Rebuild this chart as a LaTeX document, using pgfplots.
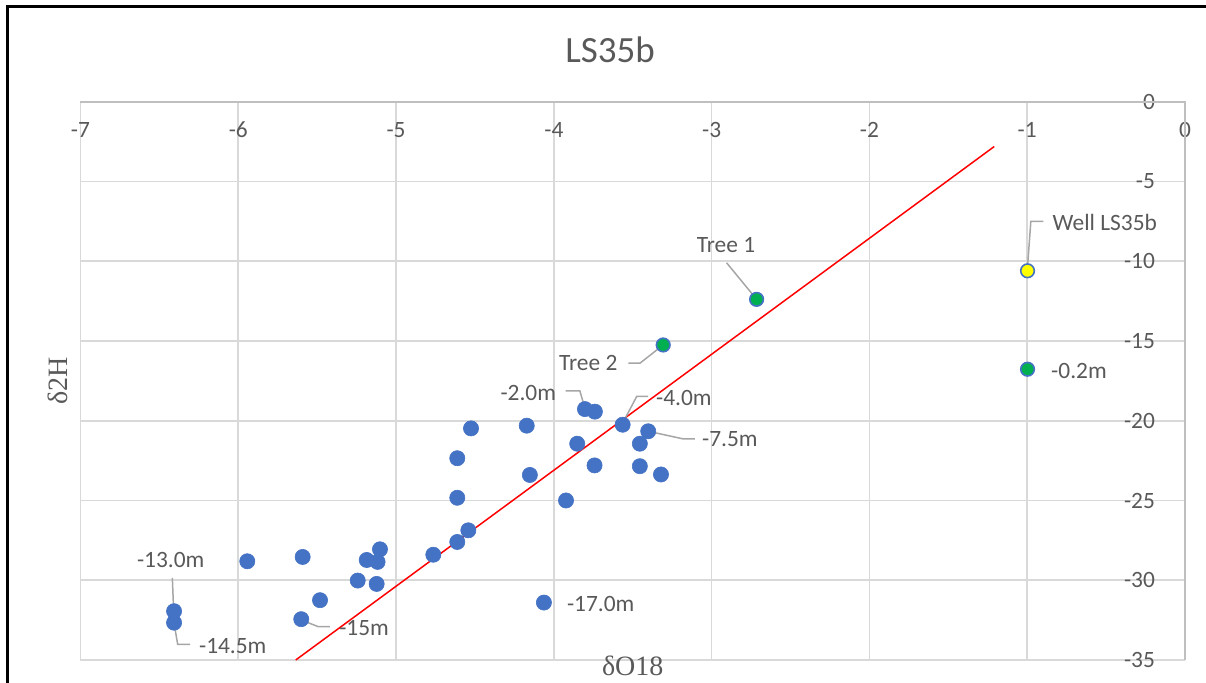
\documentclass[border=0pt]{standalone}
\usepackage{pgfplots}
\pgfplotsset{compat=1.18}
\usepackage{fontspec}
\setmainfont{Carlito}
\newfontfamily\seriffont{Liberation Serif}
\definecolor{xlblue}{HTML}{4472C4}
\definecolor{xlgreen}{HTML}{00B050}
\definecolor{xlyellow}{HTML}{FFFF00}
\definecolor{txt}{HTML}{595959}
\definecolor{gridc}{HTML}{D9D9D9}
\definecolor{axisc}{HTML}{BFBFBF}
\definecolor{lead}{HTML}{A6A6A6}
\tikzset{lbl/.style={font=\fontsize{11.7}{13}\selectfont, text=txt, inner sep=0pt}}
\begin{document}
\begin{tikzpicture}
\useasboundingbox (-40.25pt,-11pt) rectangle (562.75pt,330pt);
\draw[black, line width=1.4pt] (-36.6pt,-12pt) -- (-36.6pt,326.6pt) -- (564pt,326.6pt);
\begin{axis}[
  scale only axis, width=552.25pt, height=279.15pt,
  anchor=south west, at={(0,0)},
  xmin=-7, xmax=0, ymin=-35, ymax=0,
  xtick={-7,-6,-5,-4,-3,-2,-1,0},
  xticklabels={-7,-6,-5,-4,-3,-2,-1,0},
  ytick={-35,-30,-25,-20,-15,-10,-5,0},
  yticklabels={-35,-30,-25,-20,-15,-10,-5,0},
  grid=major, grid style={draw=gridc, line width=0.8pt},
  axis line style={draw=none},
  major tick length=0pt,
  xticklabel pos=upper, yticklabel pos=upper,
  xticklabel style={anchor=center, yshift=-14.15pt, font=\fontsize{11.7}{13}\selectfont, text=txt},
  yticklabel style={anchor=east, xshift=-11.5pt, font=\fontsize{11.7}{13}\selectfont, text=txt},
  xlabel={\seriffont δO18},
  ylabel={\seriffont δ2H},
  xlabel style={at={(axis description cs:0.5,0)}, anchor=center, yshift=-3pt, font=\fontsize{14}{16}\selectfont, text=txt},
  ylabel style={at={(axis description cs:-0.0204,0.5)}, anchor=center, font=\fontsize{14}{16}\selectfont, text=txt},
  clip=false,
]
\draw[axisc, line width=0.8pt] (axis cs:-7,0) -- (axis cs:0,0) -- (axis cs:0,-35);
\addplot[only marks, mark=*, mark size=3.8pt, mark options={fill=xlblue, draw=xlblue, line width=0.3pt}] coordinates {
(-6.407,-31.94) (-6.407,-32.66) (-5.943,-28.81) (-5.592,-28.54) (-5.601,-32.44)
(-5.482,-31.25) (-5.243,-30.02) (-5.186,-28.73) (-5.117,-28.85) (-5.102,-28.06)
(-5.123,-30.23) (-4.764,-28.40) (-4.612,-27.60) (-4.542,-26.87) (-4.612,-24.83)
(-4.612,-22.35) (-4.525,-20.48) (-4.172,-20.31) (-4.152,-23.40) (-4.063,-31.40)
(-3.923,-25.00) (-3.852,-21.44) (-3.803,-19.27) (-3.740,-19.43) (-3.742,-22.80)
(-3.564,-20.25) (-3.455,-21.44) (-3.402,-20.66) (-3.455,-22.85) (-3.321,-23.37)
};
\addplot[only marks, mark=*, mark size=3.4pt, mark options={fill=xlgreen, draw=xlblue, line width=0.8pt}] coordinates {
(-2.715,-12.39) (-3.307,-15.25) (-0.998,-16.77)
};
\addplot[only marks, mark=*, mark size=3.4pt, mark options={fill=xlyellow, draw=xlblue, line width=0.8pt}] coordinates {
(-0.998,-10.60)
};
\addplot[red, line width=0.75pt, no marks] coordinates {(-5.636,-35.0) (-1.209,-2.81)};
% leader lines
\draw[lead, line width=0.75pt] (axis cs:-6.418,-29.85) -- (axis cs:-6.410,-31.80);
\draw[lead, line width=0.75pt] (axis cs:-6.407,-32.70) -- (axis cs:-6.384,-34.02) -- (axis cs:-6.306,-34.02);
\draw[lead, line width=0.75pt] (axis cs:-5.599,-32.50) -- (axis cs:-5.493,-32.91) -- (axis cs:-5.419,-32.91);
\draw[lead, line width=0.75pt] (axis cs:-3.925,-18.13) -- (axis cs:-3.835,-18.13) -- (axis cs:-3.803,-19.23);
\draw[lead, line width=0.75pt] (axis cs:-3.564,-20.15) -- (axis cs:-3.475,-18.48) -- (axis cs:-3.402,-18.48);
\draw[lead, line width=0.75pt] (axis cs:-3.402,-20.66) -- (axis cs:-3.180,-21.14) -- (axis cs:-3.106,-21.14);
\draw[lead, line width=0.75pt] (axis cs:-3.528,-16.39) -- (axis cs:-3.454,-16.39) -- (axis cs:-3.307,-15.25);
\draw[lead, line width=0.75pt] (axis cs:-2.905,-10.10) -- (axis cs:-2.715,-12.39);
\draw[lead, line width=0.75pt] (axis cs:-0.898,-7.50) -- (axis cs:-0.977,-7.50) -- (axis cs:-0.998,-10.35);
% labels
\node[lbl] at (axis cs:-6.428,-28.74) {-13.0m};
\node[lbl] at (axis cs:-6.035,-34.11) {-14.5m};
\node[lbl] at (axis cs:-5.203,-33.02) {-15m};
\node[lbl] at (axis cs:-3.703,-31.48) {-17.0m};
\node[lbl] at (axis cs:-4.162,-18.27) {-2.0m};
\node[lbl] at (axis cs:-3.176,-18.58) {-4.0m};
\node[lbl] at (axis cs:-2.884,-21.14) {-7.5m};
\node[lbl] at (axis cs:-3.782,-16.39) {Tree 2};
\node[lbl] at (axis cs:-2.909,-9.00) {Tree 1};
\node[lbl] at (axis cs:-0.508,-7.55) {Well LS35b};
\node[lbl] at (axis cs:-0.672,-16.89) {-0.2m};
\end{axis}
\node[font=\fontsize{18.5}{22}\selectfont, text=txt] at (264.75pt,305pt) {LS35b};
\end{tikzpicture}
\end{document}
